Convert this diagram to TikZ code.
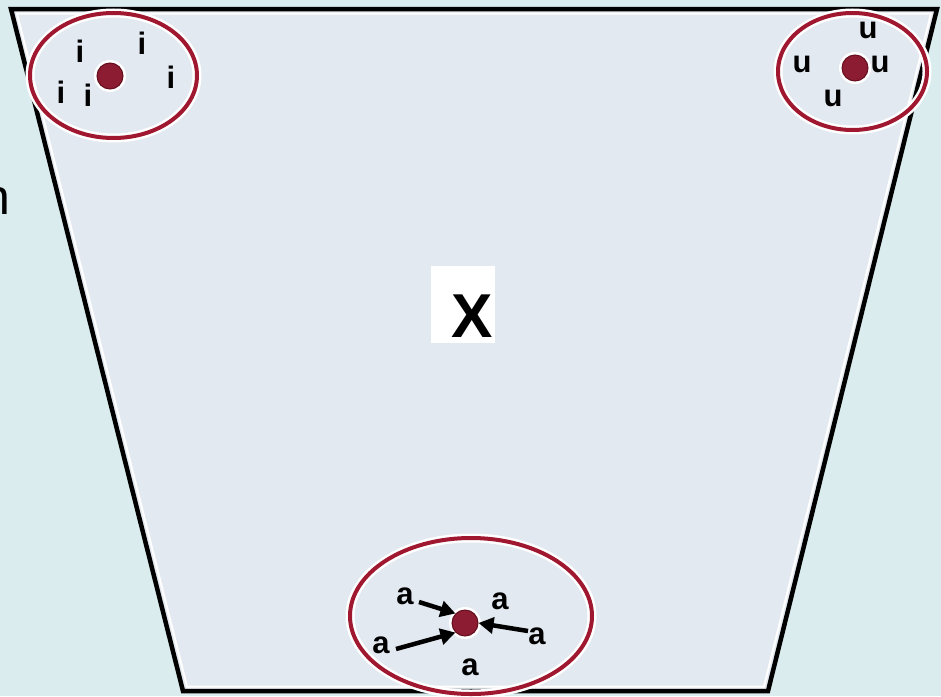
\documentclass[tikz,border=0pt]{standalone}
\usepackage{fontspec}
\setmainfont{Liberation Sans}
\usetikzlibrary{arrows.meta}
\definecolor{bgc}{RGB}{218,236,238}
\definecolor{trapc}{RGB}{227,233,240}
\definecolor{ringc}{RGB}{160,24,48}
\definecolor{dotc}{RGB}{140,28,50}
\definecolor{dotedge}{RGB}{100,14,30}
\tikzset{
  ring/.style={draw=ringc, line width=4pt},
  halo/.style={draw=white, line width=9pt},
  dotw/.style={fill=white, draw=none},
  dotn/.style={circle, fill=dotc, draw=dotedge, line width=1pt, minimum size=26pt, inner sep=0pt},
  letter/.style={font=\bfseries\fontsize{31}{31}\selectfont, inner sep=0pt, text=black},
  arr/.style={line width=4.5pt, -{Triangle[length=15pt,width=16pt]}},
}
\begin{document}
\begin{tikzpicture}[x=1pt,y=-1pt]
\useasboundingbox (0,0) rectangle (941,696);
\fill[bgc] (0,0) rectangle (941,696);
% partially visible text at the left edge
\node[anchor=base east, inner sep=0pt, font=\fontsize{50}{50}\selectfont] (ntext) at (11,214) {n};
% trapezoid
\coordinate (tl) at (11,9);
\coordinate (tr) at (937,9);
\coordinate (br) at (768,691);
\coordinate (bl) at (183,691);
\fill[trapc] (tl) -- (tr) -- (br) -- (bl) -- cycle;
\draw[white, line width=2pt] (17,13.5) -- (931,13.5) -- (764,686.5) -- (187,686.5) -- cycle;
\draw[black, line width=4.5pt, line join=miter] (tl) -- (tr) -- (br) -- (bl) -- cycle;
% X label
\fill[white] (431,266) rectangle (495,343);
\node[anchor=base east, inner sep=0pt, font=\bfseries\fontsize{62}{62}\selectfont] (xlab) at (493,337) {X};
% top-left cluster
\draw[halo] (113.5,75.5) ellipse [x radius=83.5, y radius=62.5];
\draw[ring] (113.5,75.5) ellipse [x radius=83.5, y radius=62.5];
\fill[dotw] (110,76) circle (16);
\node[dotn] (d1) at (110,76) {};
\node[letter] (i1) at (80,51) {i};
\node[letter] (i2) at (142,43) {i};
\node[letter] (i3) at (171,77) {i};
\node[letter] (i4) at (61,92) {i};
\node[letter] (i5) at (88,95) {i};
% top-right cluster
\draw[halo] (852.5,71.5) ellipse [x radius=74.5, y radius=58.5];
\draw[ring] (852.5,71.5) ellipse [x radius=74.5, y radius=58.5];
\fill[dotw] (855,68) circle (16);
\node[dotn] (d2) at (855,68) {};
\node[letter] (u1) at (868,30) {u};
\node[letter] (u2) at (802,64) {u};
\node[letter] (u3) at (880,64) {u};
\node[letter] (u4) at (833,98) {u};
% bottom cluster
\draw[halo] (471,616) ellipse [x radius=121, y radius=78];
\draw[ring] (471,616) ellipse [x radius=121, y radius=78];
\fill[dotw] (465,623) circle (16);
\node[dotn] (d3) at (465,623) {};
\node[letter] (a1) at (405,596) {a};
\node[letter] (a2) at (500,601) {a};
\node[letter] (a3) at (381,645) {a};
\node[letter] (a4) at (537,636) {a};
\node[letter] (a5) at (470,667) {a};
\coordinate (s1) at (419,602);
\coordinate (s3) at (396,649);
\coordinate (s4) at (528,631);
\draw[arr] (s1) -- (d3.north west);
\draw[arr] (s3) -- (d3.south west);
\draw[arr] (s4) -- (d3.east);
\end{tikzpicture}
\end{document}
